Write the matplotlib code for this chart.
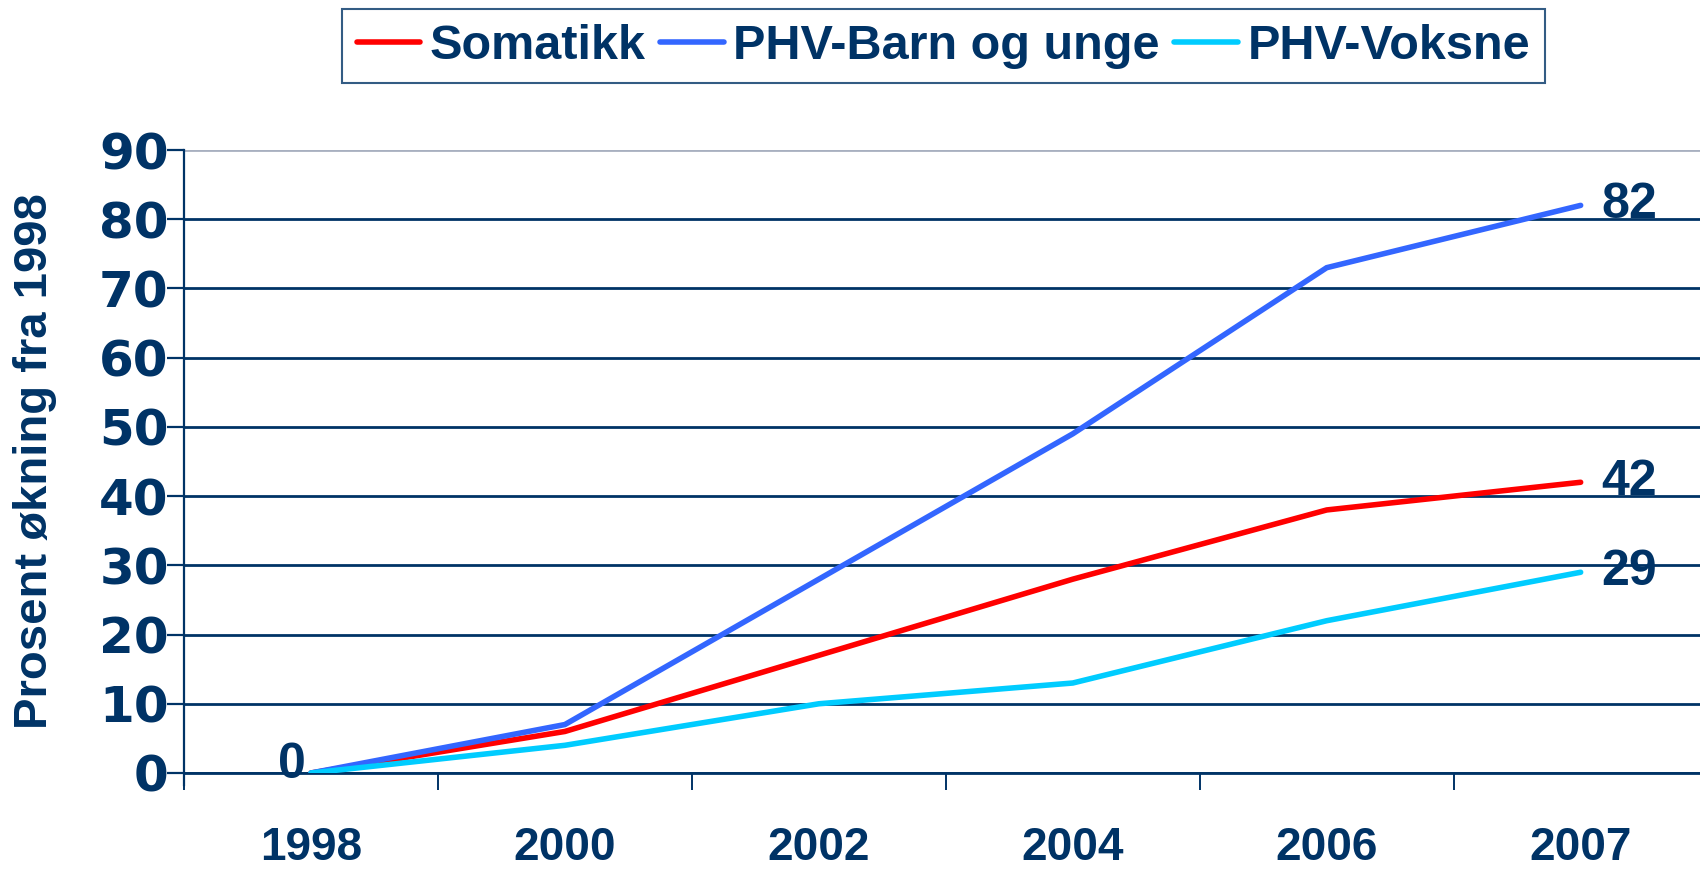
import matplotlib
matplotlib.use("Agg")
import matplotlib.pyplot as plt
import numpy as np

years = ["1998", "2000", "2002", "2004", "2006", "2007"]
somatikk = [0, 6, 17, 28, 38, 42]
phv_barn = [0, 7, 28, 49, 73, 82]
phv_voksne = [0, 4, 10, 13, 22, 29]
series_names = ["Somatikk", "PHV-Barn og unge", "PHV-Voksne"]
y_ticks = [0, 10, 20, 30, 40, 50, 60, 70, 80, 90]

NAVY = "#003366"
colors = ["#FF0000", "#3366FF", "#00CCFF"]

plt.rcParams["font.family"] = ["Liberation Sans", "DejaVu Sans"]

fig = plt.figure(figsize=(17, 8.69), dpi=100)
ax = fig.add_axes([184 / 1700, 1 - 773 / 869, 1 - 184 / 1700, (773 - 150) / 869])

x = np.arange(len(years))
lines = []
for vals, name, c in zip([somatikk, phv_barn, phv_voksne], series_names, colors):
    ln, = ax.plot(x, vals, color=c, lw=4.0, label=name, solid_capstyle="round",
                  solid_joinstyle="miter", zorder=3)
    lines.append(ln)

ax.set_xlim(-0.5, 5.47)
ax.set_ylim(0, 90)

# y axis
ax.set_yticks(y_ticks)
ax.set_yticklabels([str(v) for v in y_ticks], fontsize=36, fontweight="bold",
                   color=NAVY, family="DejaVu Sans")
ax.yaxis.grid(True, color=NAVY, lw=2.0, zorder=1)
gl = ax.get_ygridlines()
gl[-1].set_color("#a8b0c0")
ax.tick_params(axis="y", length=12, width=1.6, color=NAVY, pad=-1)

# x axis: category boundaries as major ticks, labels on minor ticks
ax.set_xticks(np.arange(-0.5, 5.0, 1.0))
ax.set_xticklabels([])
ax.set_xticks(x, minor=True)
ax.set_xticklabels(years, minor=True, fontsize=33, fontweight="bold", color=NAVY)
ax.tick_params(axis="x", which="major", length=12, width=1.4, color=NAVY, direction="out")
ax.tick_params(axis="x", which="minor", length=0, pad=38)

for side in ["top", "right"]:
    ax.spines[side].set_visible(False)
ax.spines["left"].set_color(NAVY)
ax.spines["left"].set_linewidth(1.6)
ax.spines["bottom"].set_color(NAVY)
ax.spines["bottom"].set_linewidth(2.0)
ax.spines["left"].set_bounds(-1.8, 90)

ax.set_ylabel("Prosent økning fra 1998", fontsize=34, fontweight="bold", color=NAVY)
ax.yaxis.set_label_coords(-0.084, 0.5)

# data labels
for vals in [somatikk, phv_barn, phv_voksne]:
    ax.annotate(str(vals[-1]), (x[-1], vals[-1]), xytext=(15, 0), textcoords="offset points",
                ha="left", va="center", fontsize=36, fontweight="bold", color=NAVY)
ax.annotate(str(somatikk[0]), (x[0], somatikk[0]), xytext=(-4, 6), textcoords="offset points",
            ha="right", va="center", fontsize=36, fontweight="bold", color=NAVY)

leg = fig.legend(handles=lines, loc="center", bbox_to_anchor=(0.555, 0.947), ncol=3,
                 frameon=True, fancybox=False, prop={"size": 35, "weight": "bold"},
                 handlelength=1.3, handletextpad=0.2, columnspacing=0.3,
                 borderpad=0.3, borderaxespad=0)
leg.get_frame().set_edgecolor(NAVY)
leg.get_frame().set_linewidth(1.5)
for t in leg.get_texts():
    t.set_color(NAVY)

fig.savefig("out.png", dpi=100)
